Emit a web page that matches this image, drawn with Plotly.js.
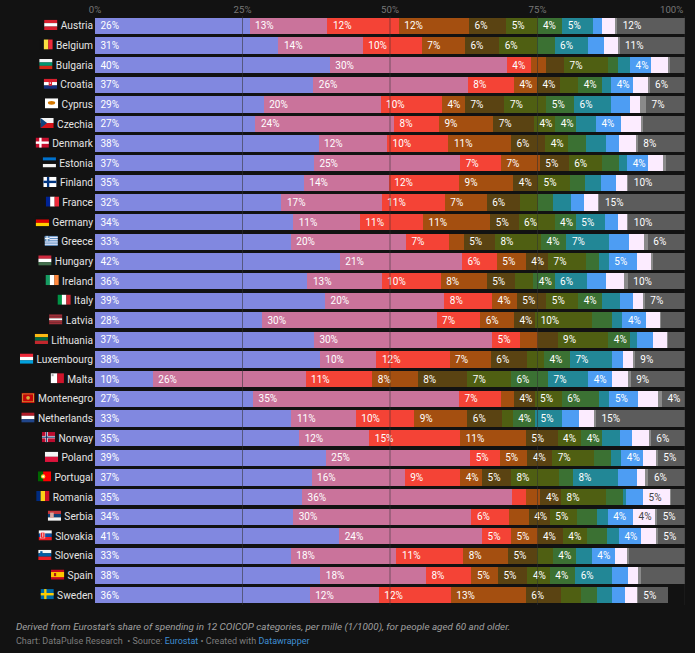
<!DOCTYPE html>
<html><head><meta charset="utf-8">
<script src="https://cdn.plot.ly/plotly-3.0.1.min.js"></script>
<style>html,body{margin:0;padding:0;background:#121212}</style></head>
<body><div id="chart" style="width:695px;height:653px"></div>
<script>
const categories=["Food","Housing","Health","Transport","Recreation","Restaurants","Furnishings","Misc","Clothing","Communication","Education","Other"];
const seriesColors=["#8188e0","#ca739b","#f44336","#a44f10","#5a4312","#4f5f12","#3b7133","#228796","#4d9df3","#fcecff","#8a8a8a","#5c5c5c"];
const seriesTextColors=["#fff","#fff","#fff","#fff","#fff","#fff","#fff","#fff","#fff","#444","#fff","#fff"];
const countries=["Austria","Belgium","Bulgaria","Croatia","Cyprus","Czechia","Denmark","Estonia","Finland","France","Germany","Greece","Hungary","Ireland","Italy","Latvia","Lithuania","Luxembourg","Malta","Montenegro","Netherlands","Norway","Poland","Portugal","Romania","Serbia","Slovakia","Slovenia","Spain","Sweden"];
const Austria=[26.2,13.2,12.1,11.9,6.3,5.3,4.2,5.2,1.6,2.3,0.2,11.5];
const Belgium=[31.1,14.3,10.0,7.3,5.8,6.4,3.0,5.6,2.8,2.4,0.2,11.1];
const Bulgaria=[39.8,30.0,4.1,2.6,3.0,7.4,1.8,2.0,3.5,3.0,0.2,2.6];
const Croatia=[37.0,26.2,7.8,3.9,3.9,3.1,4.0,1.6,3.7,2.6,0.2,6.0];
const Cyprus=[28.6,19.8,10.4,3.9,6.7,7.1,4.7,6.3,3.1,1.8,1.0,6.6];
const Czechia=[27.2,23.5,7.6,9.2,6.9,3.6,3.5,3.4,4.3,3.4,0.2,7.2];
const Denmark=[37.9,11.6,10.4,10.6,5.8,3.8,3.1,3.4,2.2,3.0,0.2,8.0];
const Estonia=[37.1,24.8,6.9,6.6,4.9,5.6,2.9,1.4,3.6,2.6,0.3,3.3];
const Finland=[35.4,14.4,11.9,9.2,4.2,5.4,2.6,2.7,2.5,1.9,0.2,9.6];
const France=[31.6,17.0,10.7,7.1,5.6,3.0,2.7,3.0,2.2,2.4,0.2,14.5];
const Germany=[33.6,11.3,10.7,11.4,4.8,6.1,3.6,4.9,2.3,1.5,0.2,9.6];
const Greece=[33.2,19.5,7.3,2.5,5.3,7.8,4.3,7.2,3.4,2.5,0.7,6.3];
const Hungary=[41.5,20.7,5.9,4.9,3.8,6.5,2.1,1.7,4.8,2.4,0.2,5.5];
const Ireland=[36.0,12.6,10.0,7.8,4.8,3.1,3.6,5.5,3.2,3.0,0.7,9.7];
const Italy=[39.0,20.2,8.1,4.2,5.0,5.4,4.1,3.0,2.2,1.8,0.2,6.8];
const Latvia=[28.3,29.6,7.4,5.7,3.6,9.6,3.4,1.8,4.0,2.4,0.2,4.0];
const Lithuania=[37.1,30.2,4.8,2.9,3.4,8.6,3.6,1.2,2.8,2.4,0.2,2.8];
const Luxembourg=[38.1,9.6,12.4,7.0,6.2,2.8,4.4,7.1,1.9,1.7,0.3,8.5];
const Malta=[9.8,25.9,11.3,7.7,8.4,7.4,6.3,6.8,4.0,2.7,0.5,9.2];
const Montenegro=[26.8,34.9,7.1,2.2,3.5,4.6,6.3,1.8,4.8,3.4,0.7,3.9];
const Netherlands=[33.3,10.9,9.9,9.0,5.9,1.8,3.8,4.6,2.8,2.7,0.2,15.1];
const Norway=[34.6,11.9,15.4,11.1,5.4,4.0,3.6,3.0,2.0,3.0,0.2,5.8];
const Poland=[39.1,24.5,5.0,4.7,4.2,7.1,2.9,1.7,3.7,2.3,0.2,4.6];
const Portugal=[36.7,15.8,9.4,3.7,4.9,8.1,2.4,7.6,3.2,1.5,0.5,6.2];
const Romania=[35.1,35.6,2.4,2.4,3.5,7.6,2.9,0.5,2.9,4.6,0.1,2.4];
const Serbia=[33.6,30.2,6.4,3.3,3.6,4.6,3.4,1.8,4.3,3.8,0.3,4.7];
const Slovakia=[41.4,24.2,4.9,4.5,4.3,4.1,3.4,2.0,3.8,2.6,0.2,4.6];
const Slovenia=[33.2,17.9,11.3,7.6,4.9,2.7,3.9,2.7,3.9,2.2,0.2,9.5];
const Spain=[38.2,17.9,7.7,4.5,5.0,3.8,4.3,6.2,2.7,1.8,0.5,7.4];
const Sweden=[36.4,11.7,12.2,12.7,5.9,3.4,2.8,2.5,2.2,2.1,0.1,5.1];
const rows=[Austria,Belgium,Bulgaria,Croatia,Cyprus,Czechia,Denmark,Estonia,Finland,France,Germany,Greece,Hungary,Ireland,Italy,Latvia,Lithuania,Luxembourg,Malta,Montenegro,Netherlands,Norway,Poland,Portugal,Romania,Serbia,Slovakia,Slovenia,Spain,Sweden];
const axisTicks=[0,25,50,75];
const axisTickLabels=["0%","25%","50%","75%"];

// flags: simple vector drawings
function hs(c){const h=60/c.length;return c.map((k,i)=>`<rect x="0" y="${i*h}" width="80" height="${h+.5}" fill="${k}"/>`).join('');}
function vs(c){const w=80/c.length;return c.map((k,i)=>`<rect x="${i*w}" y="0" width="${w+.5}" height="60" fill="${k}"/>`).join('');}
function cross(bg,fg,inner){let s=`<rect width="80" height="60" fill="${bg}"/><rect x="22" width="14" height="60" fill="${fg}"/><rect y="23" width="80" height="14" fill="${fg}"/>`;
 if(inner)s+=`<rect x="26" width="6" height="60" fill="${inner}"/><rect y="27" width="80" height="6" fill="${inner}"/>`;return s;}
const flagArt={
Austria:hs(["#d8202f","#fff","#d8202f"]),Belgium:vs(["#111","#fae042","#ed2939"]),Bulgaria:hs(["#f4f4f4","#00966e","#d62612"]),
Croatia:hs(["#d8202f","#fff","#17307e"])+'<rect x="30" y="16" width="20" height="26" fill="#d8202f"/><rect x="36" y="22" width="8" height="8" fill="#fff"/>',
Cyprus:'<rect width="80" height="60" fill="#fff"/><ellipse cx="40" cy="27" rx="22" ry="11" fill="#d57800"/>',
Czechia:hs(["#f4f4f4","#d7141a"])+'<path d="M0 0L40 30L0 60Z" fill="#11457e"/>',
Denmark:cross("#c8102e","#fff"),Estonia:hs(["#0072ce","#111","#f4f4f4"]),Finland:cross("#fff","#003580"),France:vs(["#002395","#fff","#ed2939"]),
Germany:hs(["#111","#dd0000","#ffce00"]),
Greece:'<rect width="80" height="60" fill="#5f8fc0"/>'+[1,3,5,7].map(i=>`<rect y="${i*60/9}" width="80" height="6.7" fill="#eef"/>`).join('')+'<rect width="30" height="33" fill="#5f8fc0"/><rect x="12" width="6" height="33" fill="#fff"/><rect y="13" width="30" height="6" fill="#fff"/>',
Hungary:hs(["#cd2a3e","#fff","#436f4d"]),Ireland:vs(["#169b62","#fff","#ff883e"]),Italy:vs(["#009246","#fff","#ce2b37"]),
Latvia:hs(["#9e3039","#9e3039","#fff","#9e3039","#9e3039"]),Lithuania:hs(["#fdb913","#006a44","#c1272d"]),Luxembourg:hs(["#ed2939","#fff","#00a1de"]),
Malta:vs(["#fff","#cf142b"])+'<rect x="6" y="6" width="12" height="12" fill="#aaa"/>',
Montenegro:'<rect width="80" height="60" fill="#c40308"/><rect x="5" y="5" width="70" height="50" fill="#d3ae3b"/><rect x="10" y="9" width="60" height="42" fill="#c40308"/><circle cx="40" cy="30" r="11" fill="#d3ae3b"/>',
Netherlands:hs(["#ae1c28","#fff","#21468b"]),Norway:cross("#ba0c2f","#fff","#00205b"),Poland:hs(["#f4f4f4","#dc143c"]),
Portugal:'<rect width="32" height="60" fill="#006600"/><rect x="32" width="48" height="60" fill="#ff0000"/><circle cx="32" cy="30" r="13" fill="#ffcc33"/><circle cx="32" cy="30" r="6" fill="#fff"/>',
Romania:vs(["#002b7f","#fcd116","#ce1126"]),
Serbia:hs(["#c6363c","#0c4076","#f4f4f4"])+'<rect x="14" y="12" width="22" height="32" fill="#d8a8a0"/>',
Slovakia:hs(["#f4f4f4","#0b4ea2","#ee1c25"])+'<rect x="12" y="12" width="26" height="34" fill="#ee1c25" stroke="#fff" stroke-width="3"/><rect x="23" y="17" width="5" height="22" fill="#fff"/>',
Slovenia:hs(["#f4f4f4","#005da4","#ed1c24"])+'<rect x="12" y="8" width="14" height="18" fill="#005da4"/>',
Spain:'<rect width="80" height="60" fill="#c60b1e"/><rect y="15" width="80" height="30" fill="#ffc400"/><rect x="18" y="21" width="13" height="18" fill="#ad1519"/>',
Sweden:'<rect width="80" height="60" fill="#006aa7"/><rect x="22" width="14" height="60" fill="#fecc00"/><rect y="23" width="80" height="14" fill="#fecc00"/>'
};
const ctx=document.createElement('canvas').getContext('2d');
ctx.font='10.2px Roboto';
const plotL=95,plotW=590,labelRight=93,flagW=13.3;
const images=countries.map((c)=>{
 const textW=ctx.measureText(c).width;
 const right=labelRight-textW-3.3;
 const svg=`<svg xmlns="http://www.w3.org/2000/svg" width="80" height="60" viewBox="0 0 80 60" preserveAspectRatio="none">${flagArt[c]}</svg>`;
 return {source:'data:image/svg+xml;charset=utf-8,'+encodeURIComponent(svg),xref:'paper',yref:'y',x:(right-plotL)/plotW,y:countries.indexOf(c)-0.05,sizex:flagW/plotW,sizey:0.52,xanchor:'right',yanchor:'middle',sizing:'stretch',layer:'above'};
});

const traces=categories.map((name,k)=>{
 const x=rows.map(r=>r[k]);
 return {type:'bar',orientation:'h',name,y:countries.map((c,i)=>i),x,
  marker:{color:seriesColors[k],line:{width:0}},
  text:x.map(v=>v>=3.5?'\u00a0'+Math.round(v)+'%':''),
  textposition:'inside',insidetextanchor:'start',textangle:0,constraintext:'none',cliponaxis:false,
  insidetextfont:{family:'Roboto',size:10,color:seriesTextColors[k]},hoverinfo:'skip'};
});
const gridLines=[25,50,75,100].map(v=>({type:'line',xref:'x',yref:'paper',x0:v,x1:v,y0:0,y1:1,layer:'above',line:{color:'rgba(50,50,50,0.55)',width:1}}));

const layout={width:695,height:653,paper_bgcolor:'#121212',plot_bgcolor:'#121212',
 margin:{l:95,r:10,t:16.2,b:48.2},barmode:'stack',bargap:0.17,showlegend:false,
 xaxis:{range:[0,100],side:'top',tickvals:axisTicks,ticktext:axisTickLabels,showgrid:false,zeroline:false,showline:false,ticks:'',ticklen:0,
  tickfont:{family:'Roboto',size:9.6,color:'#777'},fixedrange:true},
 yaxis:{type:'linear',range:[29.5,-0.5],tickvals:countries.map((c,i)=>i),ticktext:countries,showgrid:false,zeroline:false,showline:false,ticks:'',ticklabelstandoff:1,
  tickfont:{family:'Roboto',size:10.2,color:'#e4e4e4'},fixedrange:true},
 shapes:gridLines,images,
 annotations:[
  {xref:'paper',yref:'paper',x:1,y:1,yshift:-1,xanchor:'right',yanchor:'bottom',showarrow:false,text:'100%',font:{family:'Roboto',size:9.6,color:'#777'}},
  {xref:'paper',yref:'paper',x:-81/590,y:-29.5/588.6,xanchor:'left',yanchor:'bottom',showarrow:false,text:"<i>Derived from Eurostat's share of spending in 12 COICOP categories, per mille (1/1000), for people aged 60 and older.</i>",font:{family:'Roboto',size:9.9,color:'#a0a0a0'},align:'left'},
  {xref:'paper',yref:'paper',x:-81/590,y:-43/588.6,xanchor:'left',yanchor:'bottom',showarrow:false,text:'Chart: DataPulse Research\u00a0 • Source: <span style="color:#3f8fd2">Eurostat</span> • Created with <span style="color:#3f8fd2">Datawrapper</span>',font:{family:'Roboto',size:9,color:'#7d7d7d'},align:'left'}
 ]};
Plotly.newPlot('chart',traces,layout,{displayModeBar:false,responsive:false});
</script></body></html>
